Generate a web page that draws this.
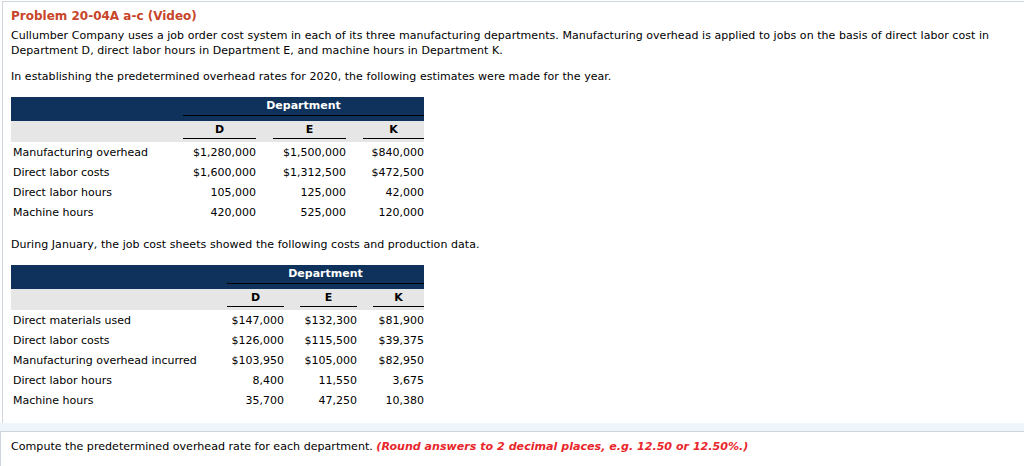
<!DOCTYPE html>
<html>
<head>
<meta charset="utf-8">
<script src="https://cdn.jsdelivr.net/npm/chart.js"></script>
<style>
  html, body { margin: 0; padding: 0; background: #fff; }
  body { width: 1024px; height: 466px; position: relative; overflow: hidden;
         font-family: Verdana, "DejaVu Sans", sans-serif; font-size: 11px; color: #000; }
  .panel { position: absolute; left: 2px; top: 1px; width: 1030px; height: 421px;
           border: 1px solid #cfd6de; border-right: none; }
  .band { position: absolute; left: 0; top: 423px; width: 1024px; height: 8px; background: #eef5fb; }
  .panel2 { position: absolute; left: 0; top: 431px; width: 1030px; height: 40px;
            border-top: 1px solid #cfd6de; border-left: 1px solid #cfd6de; }
  .t { position: absolute; left: 11px; white-space: nowrap; line-height: 15px; letter-spacing: 0.05px; }
  .title { color: #c8452a; font-weight: bold; font-size: 12px; letter-spacing: 0; }
  table { position: absolute; left: 11px; border-collapse: collapse; font-size: 11px; }
  td { padding: 0; height: 20px; white-space: nowrap; }
  td.lab { padding-left: 2px; }
  .hd td { background: #0e325b; color: #fff; font-weight: bold; height: 24px; vertical-align: top;
           line-height: 13px; padding-top: 2px; box-sizing: border-box; }
  .sub td { background: #e6e6e6; height: 21px; font-weight: bold; text-align: center; vertical-align: top;
            line-height: 13px; padding-top: 2px; box-sizing: border-box; }
  .num { text-align: right; }
  .bottom { position: absolute; left: 11px; top: 440px; font-family: Tahoma, "DejaVu Sans", sans-serif; font-size: 11.1px; }
  .bottom b { color: #e8262b; font-style: italic; }
</style>
</head>
<body>
<div class="panel"></div>
<div class="band"></div>
<div class="panel2"></div>

<div class="t title" style="top:9px">Problem 20-04A a-c (Video)</div>
<div class="t" style="top:28px">Cullumber Company uses a job order cost system in each of its three manufacturing departments. Manufacturing overhead is applied to jobs on the basis of direct labor cost in<br>Department D, direct labor hours in Department E, and machine hours in Department K.</div>
<div class="t" style="top:69px">In establishing the predetermined overhead rates for 2020, the following estimates were made for the year.</div>
<div id="tbl1"></div>
<div class="t" style="top:237px">During January, the job cost sheets showed the following costs and production data.</div>
<div id="tbl2"></div>
<div class="bottom">Compute the predetermined overhead rate for each department. <b>(Round answers to 2 decimal places, e.g. 12.50 or 12.50%.)</b></div>

<script>
const departments = ['D', 'E', 'K'];

const estimateRows = ['Manufacturing overhead', 'Direct labor costs', 'Direct labor hours', 'Machine hours'];
const estimateD = ['$1,280,000', '$1,600,000', '105,000', '420,000'];
const estimateE = ['$1,500,000', '$1,312,500', '125,000', '525,000'];
const estimateK = ['$840,000', '$472,500', '42,000', '120,000'];

const januaryRows = ['Direct materials used', 'Direct labor costs', 'Manufacturing overhead incurred', 'Direct labor hours', 'Machine hours'];
const januaryD = ['$147,000', '$126,000', '$103,950', '8,400', '35,700'];
const januaryE = ['$132,300', '$115,500', '$105,000', '11,550', '47,250'];
const januaryK = ['$81,900', '$39,375', '$82,950', '3,675', '10,380'];

// underline span used under "Department" and under each column letter
function rule(bottom) {
  return '<span style="position:absolute;left:0;right:0;bottom:' + bottom + 'px;border-bottom:1px solid #000"></span>';
}

function buildTable(id, top, widths, labels, cols) {
  let h = '<table style="top:' + top + 'px">';
  h += '<colgroup>' + widths.map(x => '<col style="width:' + x + 'px">').join('') + '</colgroup>';
  h += '<tr class="hd"><td></td><td colspan="6" style="text-align:center;position:relative">Department' + rule(5) + '</td></tr>';
  h += '<tr class="sub"><td></td>';
  departments.forEach((d, i) => {
    h += (i ? '<td></td>' : '') + '<td style="position:relative">' + d + rule(3) + '</td>';
  });
  h += '</tr>';
  labels.forEach((lab, r) => {
    h += '<tr><td class="lab">' + lab + '</td>';
    cols.forEach((c, i) => { h += (i ? '<td></td>' : '') + '<td class="num">' + c[r] + '</td>'; });
    h += '</tr>';
  });
  h += '</table>';
  document.getElementById(id).innerHTML = h;
}

buildTable('tbl1', 97, [172, 73, 17, 73, 17, 61], estimateRows, [estimateD, estimateE, estimateK]);
buildTable('tbl2', 265, [216, 57, 16, 57, 16, 51], januaryRows, [januaryD, januaryE, januaryK]);
</script>
</body>
</html>
